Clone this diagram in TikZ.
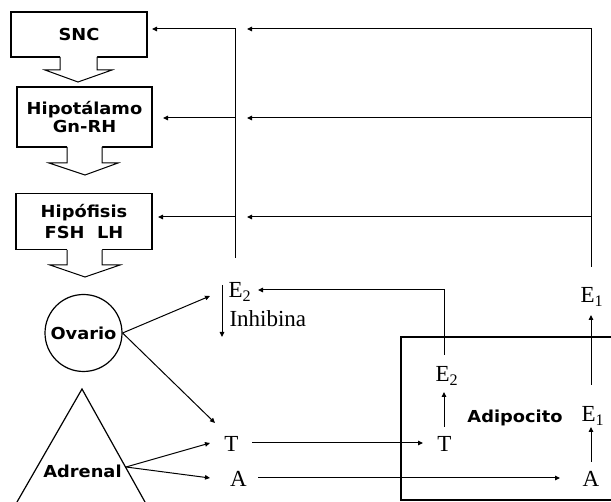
\documentclass[tikz,border=0pt]{standalone}
\usepackage{fontspec}
\setmainfont{Liberation Serif}
\newfontfamily\bsans{DejaVu Sans}[FakeStretch=1.08]
\usetikzlibrary{arrows.meta}
\begin{document}
\begin{tikzpicture}[x=1pt,y=-1pt,line width=1pt,
  arr/.style={-{Triangle[length=5pt,width=4.5pt]}},
  organ/.style={draw,line width=1.2pt,font=\bsans\bfseries\fontsize{16.5}{17.5}\selectfont,align=center,inner sep=0pt},
  organtext/.style={font=\bsans\bfseries\fontsize{16.5}{17.5}\selectfont,inner sep=0pt},
  hormone/.style={font=\fontsize{23}{25}\selectfont,inner sep=0pt},
  blockfill/.style={fill=white,draw=none}
]
\useasboundingbox (0,0) rectangle (611,502);

% organ boxes
\node[organ,minimum width=136pt,minimum height=45pt] (snc) at (79,34.5) {SNC};
\node[organ,minimum width=135pt,minimum height=60pt] (hipo) at (84.5,117) {Hipotálamo\\Gn-RH};
\node[organ,minimum width=136pt,minimum height=56pt] (hipof) at (84,221.5) {Hipófisis\\[3pt]FSH\ \ LH};

% block arrows
\path[blockfill] (60,55.5) -- (60,70) -- (45,70) -- (78,82) -- (112,70) -- (97,70) -- (97,55.5) -- cycle;
\draw (60,57) -- (60,70) -- (45,70) -- (78,82) -- (112,70) -- (97,70) -- (97,57);
\path[blockfill] (67,145.5) -- (67,163) -- (49,163) -- (85,175) -- (118,163) -- (102,163) -- (102,145.5) -- cycle;
\draw (67,147) -- (67,163) -- (49,163) -- (85,175) -- (118,163) -- (102,163) -- (102,147);
\path[blockfill] (67,248.5) -- (67,265) -- (50,265) -- (85,277) -- (120,265) -- (102,265) -- (102,248.5) -- cycle;
\draw (67,250) -- (67,265) -- (50,265) -- (85,277) -- (120,265) -- (102,265) -- (102,250);

% ovario, adrenal
\node[organ,circle,minimum size=77pt] (ovario) at (83.5,333) {Ovario};
\draw[line width=1.2pt] (17,502) -- (82,389) -- (145,502);
\node[organtext] (adrenal) at (82.5,471) {Adrenal};
\coordinate (adr) at (126,467);

% adipocito box
\draw[line width=1.2pt] (611,337) -- (401,337) -- (401,500) -- (611,500);
\node[organtext,anchor=base] (adipo) at (515,423) {Adipocito};

% hormones
\node[hormone,anchor=base west] (E2o) at (228,298) {E\textsubscript{2}};
\node[hormone,anchor=base west] (inh) at (229,327) {Inhibina};
\node[hormone,anchor=base west] (E1o) at (580,303) {E\textsubscript{1}};
\node[hormone,anchor=base west] (E2i) at (435,382) {E\textsubscript{2}};
\node[hormone,anchor=base west] (E1i) at (581,422) {E\textsubscript{1}};
\node[hormone,anchor=base] (Ti) at (444.5,452) {T};
\node[hormone,anchor=base] (Ai) at (591,487) {A};
\node[hormone,anchor=base] (To) at (231.5,452) {T};
\node[hormone,anchor=base] (Ao) at (238.5,487) {A};

% coordinates for connector ends
\coordinate (fbLtop) at (235,29);
\coordinate (fbLbot) at (235,258);
\coordinate (fbL2) at (235,118);
\coordinate (fbL3) at (235,217);
\coordinate (tipS) at (152,29);
\coordinate (tipH) at (163,118);
\coordinate (tipF) at (158,217);
\coordinate (fbRtop) at (591,29);
\coordinate (fbRbot) at (591,267);
\coordinate (fbR2) at (591,118);
\coordinate (fbR3) at (591,217);
\coordinate (tipR1) at (247,29);
\coordinate (tipR2) at (247,118);
\coordinate (tipR3) at (247,217);

% left feedback
\draw[arr] (fbLbot) -- (fbLtop) -- (tipS);
\draw[arr] (fbL2) -- (tipH);
\draw[arr] (fbL3) -- (tipF);
% right feedback
\draw[arr] (fbRbot) -- (fbRtop) -- (tipR1);
\draw[arr] (fbR2) -- (tipR2);
\draw[arr] (fbR3) -- (tipR3);

% E2 from adipocito to E2 outer
\coordinate (e2iTop) at (444,355);
\coordinate (e2corner) at (444,290);
\coordinate (e2oTip) at (258,290);
\draw[arr] (e2iTop) -- (e2corner) -- (e2oTip);

% inside adipocito
\coordinate (tiTop) at (444,427);
\coordinate (e2iBot) at (444,392);
\draw[arr] (tiTop) -- (e2iBot);
\coordinate (aiTop) at (591,462);
\coordinate (e1iBot) at (591,427);
\draw[arr] (aiTop) -- (e1iBot);
\coordinate (e1iTop) at (591,385);
\coordinate (e1oBot) at (591,315);
\draw[arr] (e1iTop) -- (e1oBot);

% T and A transport
\coordinate (toR) at (252,443);
\coordinate (tiL) at (423,443);
\draw[arr] (toR) -- (tiL);
\coordinate (aoR) at (258,478);
\coordinate (aiL) at (560,478);
\draw[arr] (aoR) -- (aiL);

% ovario outputs
\coordinate (e2oL) at (210,296);
\coordinate (toTop) at (215,423);
\draw[arr] (ovario.east) -- (e2oL);
\draw[arr] (ovario.east) -- (toTop);

% adrenal outputs
\coordinate (toL) at (210,443);
\coordinate (aoL) at (210,478);
\draw[arr] (adr) -- (toL);
\draw[arr] (adr) -- (aoL);

% inhibina arrow
\coordinate (inhTop) at (222,285);
\coordinate (inhBot) at (222,337);
\draw[arr] (inhTop) -- (inhBot);
\end{tikzpicture}
\end{document}
